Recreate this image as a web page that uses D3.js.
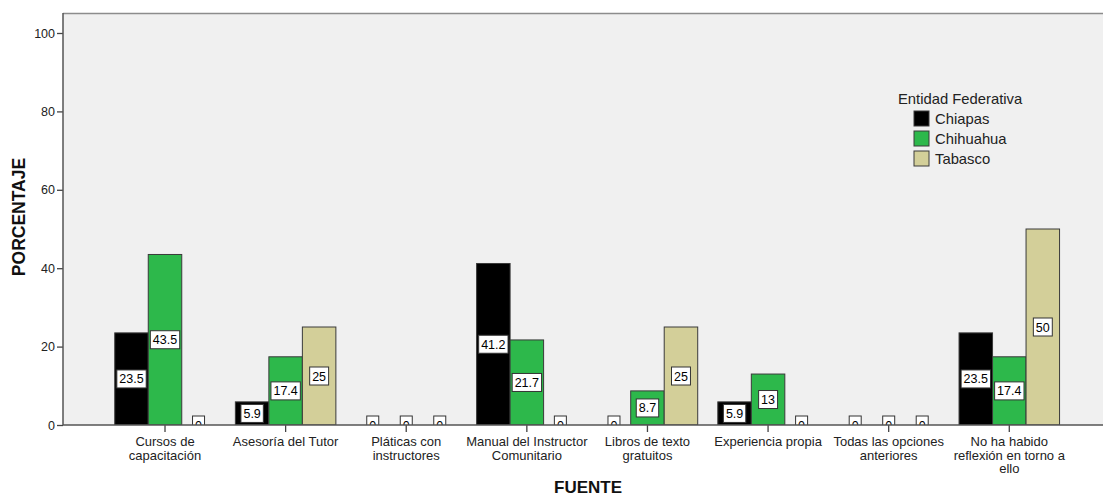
<!DOCTYPE html>
<html>
<head>
<meta charset="utf-8">
<script src="https://cdn.jsdelivr.net/npm/d3@7"></script>
<style>
  body { margin: 0; background: #ffffff; }
  svg { display: block; font-family: Arial, "Liberation Sans", sans-serif; }
</style>
</head>
<body>
<svg id="chart" width="1103" height="498"></svg>
<script>
const categories = [
  "Cursos de capacitación",
  "Asesoría del Tutor",
  "Pláticas con instructores",
  "Manual del Instructor Comunitario",
  "Libros de texto gratuitos",
  "Experiencia propia",
  "Todas las opciones anteriores",
  "No ha habido reflexión en torno a ello"
];
const tickLabels = [
  ["Cursos de", "capacitación"],
  ["Asesoría del Tutor"],
  ["Pláticas con", "instructores"],
  ["Manual del Instructor", "Comunitario"],
  ["Libros de texto", "gratuitos"],
  ["Experiencia propia"],
  ["Todas las opciones", "anteriores"],
  ["No ha habido", "reflexión en torno a", "ello"]
];
const seriesNames = ["Chiapas", "Chihuahua", "Tabasco"];
const chiapas   = [23.5, 5.9, 0, 41.2, 0, 5.9, 0, 23.5];
const chihuahua = [43.5, 17.4, 0, 21.7, 8.7, 13, 0, 17.4];
const tabasco   = [0, 25, 0, 0, 25, 0, 0, 50];
const yTicks = [0, 20, 40, 60, 80, 100];
const colors = ["#000000", "#2db84b", "#d3cf99"];

const seriesValues = [chiapas, chihuahua, tabasco];

const svg = d3.select("#chart");
const plotLeft = 63, plotTop = 13, plotRight = 1110, plotBottom = 425;

const y = d3.scaleLinear().domain([0, 100]).range([425, 33]);
const x = d3.scaleBand().domain(categories).range([104.7, 1069.6])
  .paddingInner(1/6).paddingOuter(1/12);
const xs = d3.scaleBand().domain(seriesNames).range([0, x.bandwidth()]);

// plot background
svg.append("rect")
  .attr("x", plotLeft).attr("y", plotTop)
  .attr("width", plotRight - plotLeft).attr("height", plotBottom - plotTop)
  .attr("fill", "#f0f0f0");
svg.append("line")
  .attr("x1", plotLeft).attr("x2", plotRight)
  .attr("y1", plotTop + 0.5).attr("y2", plotTop + 0.5)
  .attr("stroke", "#8c8c8c").attr("stroke-width", 1.5);

svg.append("defs").append("clipPath").attr("id", "plotclip")
  .append("rect")
  .attr("x", plotLeft).attr("y", plotTop)
  .attr("width", plotRight - plotLeft).attr("height", plotBottom - plotTop);

const data = [];
categories.forEach((c, i) => {
  seriesNames.forEach((s, j) => {
    data.push({ cat: c, series: s, value: seriesValues[j][i], color: colors[j] });
  });
});

const g = svg.append("g").attr("clip-path", "url(#plotclip)");

g.selectAll("rect.bar")
  .data(data.filter(d => d.value > 0))
  .join("rect")
  .attr("class", "bar")
  .attr("x", d => x(d.cat) + xs(d.series))
  .attr("width", xs.bandwidth())
  .attr("y", d => y(d.value))
  .attr("height", d => y(0) - y(d.value))
  .attr("fill", d => d.color)
  .attr("stroke", "#3a3a3a")
  .attr("stroke-width", 1);

// value labels
const labels = g.selectAll("g.lab")
  .data(data)
  .join("g")
  .attr("class", "lab")
  .attr("transform", d => `translate(${x(d.cat) + xs(d.series) + xs.bandwidth() / 2},${(y(0) + y(d.value)) / 2})`);

labels.append("text")
  .attr("text-anchor", "middle")
  .attr("dy", "0.36em")
  .attr("font-size", 12.5)
  .attr("fill", "#000")
  .text(d => d3.format("~g")(d.value));

labels.each(function () {
  const gg = d3.select(this);
  const bb = gg.select("text").node().getBBox();
  gg.insert("rect", "text")
    .attr("x", bb.x - 2.5)
    .attr("y", -9)
    .attr("width", bb.width + 5)
    .attr("height", 18)
    .attr("fill", "#ffffff")
    .attr("stroke", "#333333")
    .attr("stroke-width", 1);
});

// y axis
const yAxis = svg.append("g")
  .attr("transform", `translate(${plotLeft},0)`)
  .call(d3.axisLeft(y).tickValues(yTicks).tickSize(6).tickPadding(2));
yAxis.select(".domain").remove();
yAxis.append("line")
  .attr("x1", 0).attr("x2", 0).attr("y1", plotTop).attr("y2", plotBottom)
  .attr("stroke", "#555").attr("stroke-width", 1.5);
yAxis.selectAll(".tick line").attr("stroke", "#444").attr("stroke-width", 1.3);
yAxis.selectAll(".tick text").attr("font-size", 12.5).attr("fill", "#222")
  .attr("font-family", "Arial, 'Liberation Sans', sans-serif");

// x axis
const xAxis = svg.append("g")
  .attr("transform", `translate(0,${plotBottom})`)
  .call(d3.axisBottom(x).tickSize(7).tickFormat(""));
xAxis.select(".domain").remove();
xAxis.append("line")
  .attr("x1", plotLeft).attr("x2", plotRight).attr("y1", 0).attr("y2", 0)
  .attr("stroke", "#555").attr("stroke-width", 1.5);
xAxis.selectAll(".tick line").attr("stroke", "#444").attr("stroke-width", 1.3);
xAxis.selectAll(".tick").each(function (d, i) {
  const t = d3.select(this).append("text")
    .attr("text-anchor", "middle")
    .attr("font-size", 13)
    .attr("fill", "#222")
    .attr("font-family", "Arial, 'Liberation Sans', sans-serif")
    .attr("y", 21);
  tickLabels[i].forEach((line, k) => {
    t.append("tspan").attr("x", 0).attr("dy", k === 0 ? 0 : 13.5).text(line);
  });
});

// axis titles
svg.append("text")
  .attr("transform", "translate(25,217) rotate(-90)")
  .attr("text-anchor", "middle")
  .attr("font-size", 17.5).attr("font-weight", "bold").attr("fill", "#111")
  .text("PORCENTAJE");
svg.append("text")
  .attr("x", 588).attr("y", 493)
  .attr("text-anchor", "middle")
  .attr("font-size", 17).attr("font-weight", "bold").attr("fill", "#111")
  .text("FUENTE");

// legend
const legend = svg.append("g").attr("transform", "translate(898,104)");
legend.append("text").attr("x", 0).attr("y", 0)
  .attr("font-size", 14.8).attr("fill", "#222").text("Entidad Federativa");
const li = legend.selectAll("g.li").data(seriesNames).join("g")
  .attr("class", "li")
  .attr("transform", (d, i) => `translate(16,${7 + i * 20})`);
li.append("rect").attr("width", 15).attr("height", 15)
  .attr("fill", (d, i) => colors[i]).attr("stroke", "#3a3a3a").attr("stroke-width", 1);
li.append("text").attr("x", 21).attr("y", 13)
  .attr("font-size", 14.8).attr("fill", "#222").text(d => d);
</script>
</body>
</html>
